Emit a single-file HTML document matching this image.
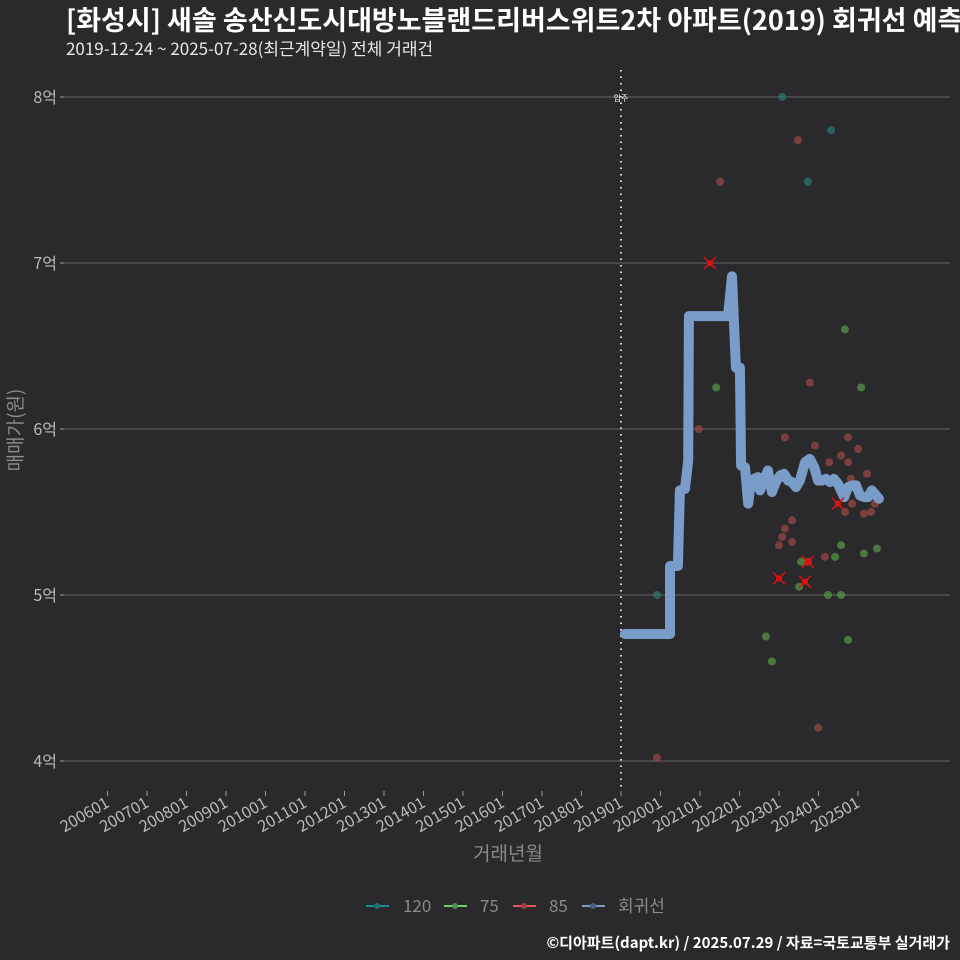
<!DOCTYPE html>
<html><head><meta charset="utf-8"><style>
body{margin:0;background:#2a2a2c;}
svg{display:block;font-family:"Noto Sans CJK KR","Liberation Sans",sans-serif;}
</style></head><body>
<svg id="chart" width="960" height="960" xmlns="http://www.w3.org/2000/svg">
<rect width="960" height="960" fill="#2a2a2c"/>
<text x="66" y="30" fill="#ffffff" font-size="27" font-weight="bold">[화성시] 새솔 송산신도시대방노블랜드리버스위트2차 아파트(2019) 회귀선 예측</text>
<text x="66" y="55" fill="#e8e8e8" font-size="17">2019-12-24 ~ 2025-07-28(최근계약일) 전체 거래건</text>
<g id="grid"></g>
<g id="yaxis"></g>
<g id="xaxis"></g>
<line x1="621" y1="70" x2="621" y2="790" stroke="#dddddd" stroke-width="2" stroke-dasharray="1.5,5"/>
<text x="621" y="101" fill="#ffffff" font-size="8" text-anchor="middle">입주</text>
<g id="points"></g>
<g id="reg"></g>
<g id="cross"></g>
<text transform="translate(22,430) rotate(-90)" fill="#8a8a8a" font-size="19" text-anchor="middle">매매가(원)</text>
<text x="508" y="860" fill="#8a8a8a" font-size="19" text-anchor="middle">거래년월</text>
<g>
<g><line x1="366" y1="906" x2="389" y2="906" stroke="#1f8a8a" stroke-width="2"/><circle cx="377" cy="906" r="3" fill="#1f6f6f"/><text x="403" y="912" fill="#8a8a8a" font-size="17">120</text></g>
<g><line x1="444" y1="906" x2="467" y2="906" stroke="#6fcf6f" stroke-width="2"/><circle cx="455" cy="906" r="3" fill="#4f8f4f"/><text x="480" y="912" fill="#8a8a8a" font-size="17">75</text></g>
<g><line x1="513" y1="906" x2="536" y2="906" stroke="#e05a5a" stroke-width="2"/><circle cx="524" cy="906" r="3" fill="#a04040"/><text x="549" y="912" fill="#8a8a8a" font-size="17">85</text></g>
<g><line x1="582" y1="906" x2="605" y2="906" stroke="#7a9cc8" stroke-width="2"/><circle cx="593" cy="906" r="3" fill="#4a6080"/><text x="618" y="912" fill="#8a8a8a" font-size="17">회귀선</text></g>
</g>
<text x="950" y="948" fill="#ffffff" font-size="15" font-weight="bold" text-anchor="end">©디아파트(dapt.kr) / 2025.07.29 / 자료=국토교통부 실거래가</text>
</svg>
<script>
const yTicks=[4,5,6,7,8];
const xTickYears=[2006,2007,2008,2009,2010,2011,2012,2013,2014,2015,2016,2017,2018,2019,2020,2021,2022,2023,2024,2025];
const t120=[2023.08,2024.32,2023.73,2019.91];
const p120=[8.0,7.80,7.49,5.0];
const t75=[2021.41,2025.08,2024.67,2024.57,2024.42,2025.15,2025.48,2023.56,2023.51,2024.24,2024.57,2024.75,2022.67,2022.82];
const p75=[6.25,6.25,6.60,5.30,5.23,5.25,5.28,5.20,5.05,5.00,5.00,4.73,4.75,4.60];
const t85=[2021.51,2023.48,2020.97,2023.78,2023.15,2023.91,2024.75,2025.0,2024.27,2024.57,2024.75,2025.23,2024.82,2024.67,2025.15,2025.33,2025.43,2024.85,2023.33,2023.15,2023.08,2023.0,2023.33,2024.16,2023.99,2019.91,2023.73];
const p85=[7.49,7.74,6.0,6.28,5.95,5.90,5.95,5.88,5.80,5.84,5.80,5.73,5.70,5.50,5.49,5.50,5.55,5.55,5.45,5.40,5.35,5.30,5.32,5.23,4.20,4.02,5.20];
const tCross=[2021.25,2023.0,2023.66,2024.49,2023.73];
const pCross=[7.0,5.10,5.08,5.55,5.20];
const tReg=[2019.10,2020.24,2020.24,2020.44,2020.49,2020.62,2020.70,2020.72,2021.71,2021.81,2021.91,2022.01,2022.04,2022.14,2022.22,2022.29,2022.37,2022.47,2022.52,2022.62,2022.72,2022.82,2022.92,2023.03,2023.13,2023.23,2023.33,2023.43,2023.53,2023.66,2023.78,2023.89,2023.99,2024.09,2024.19,2024.29,2024.39,2024.49,2024.65,2024.75,2024.85,2024.95,2025.05,2025.15,2025.25,2025.35,2025.46,2025.53];
const pReg=[4.765,4.765,5.175,5.175,5.63,5.64,5.81,6.68,6.68,6.92,6.37,6.37,5.78,5.77,5.55,5.69,5.70,5.71,5.63,5.69,5.75,5.62,5.68,5.72,5.73,5.69,5.68,5.65,5.69,5.80,5.82,5.77,5.69,5.69,5.70,5.68,5.70,5.67,5.59,5.65,5.66,5.66,5.60,5.59,5.59,5.63,5.60,5.58];
const X=t=>621+(t-2019)*39.5;
const Y=p=>761-(p-4)*166;
const NS='http://www.w3.org/2000/svg';
function mk(tag,attrs,parent){const e=document.createElementNS(NS,tag);for(const k in attrs)e.setAttribute(k,attrs[k]);parent.appendChild(e);return e;}
const grid=document.getElementById('grid'),ya=document.getElementById('yaxis'),xa=document.getElementById('xaxis');
yTicks.forEach(v=>{
 const l=mk('line',{x1:60,x2:950,y1:Y(v),y2:Y(v),stroke:'#666',"stroke-width":1},grid);
 
 
 const tk=mk('line',{x1:60,x2:64,y1:Y(v),y2:Y(v),stroke:'#999'},ya);
 
 
 const t=mk('text',{x:57,y:Y(v)+6,fill:'#bbbbbb',"font-size":16,"text-anchor":"end"},ya);
 t.textContent=v+'억';
 
 
});
xTickYears.forEach(yr=>{
 const x=X(yr);
 const tk=mk('line',{x1:x,x2:x,y1:791,y2:796,stroke:'#999'},xa);
 
 
 const t=mk('text',{x:x+3,y:806,fill:'#bbbbbb',"font-size":16,"text-anchor":"end",transform:`rotate(-30 ${x+3} 806)`},xa);
 t.textContent=yr+'01';
 
 
});
const pts=document.getElementById('points');
function series(ts,ps,col,name){ts.forEach((t,i)=>{const c=mk('circle',{cx:X(t),cy:Y(ps[i]),r:4,fill:col,"fill-opacity":0.7},pts);
 
 });}
series(t120,p120,'#2a7a74','point-120');
series(t75,p75,'#5a9a4a','point-75');
series(t85,p85,'#a04848','point-85');
const d=tReg.map((t,i)=>(i?'L':'M')+X(t).toFixed(1)+','+Y(pReg[i]).toFixed(1)).join(' ');
const rl=mk('path',{d:d,fill:'none',stroke:'#7a9cc8',"stroke-width":10,"stroke-linejoin":"round","stroke-linecap":"round"},document.getElementById('reg'));


const cr=document.getElementById('cross');
tCross.forEach((t,i)=>{const x=X(t),y=Y(pCross[i]);
 const g=mk('g',{},cr);
 
 
 mk('line',{x1:x-6,y1:y-6,x2:x+6,y2:y+6,stroke:'#e01010',"stroke-width":1.5},g);
 mk('line',{x1:x-6,y1:y+6,x2:x+6,y2:y-6,stroke:'#e01010',"stroke-width":1.5},g);
 mk('circle',{cx:x,cy:y,r:3,fill:'#e01010'},g);
});
</script>
</body></html>
